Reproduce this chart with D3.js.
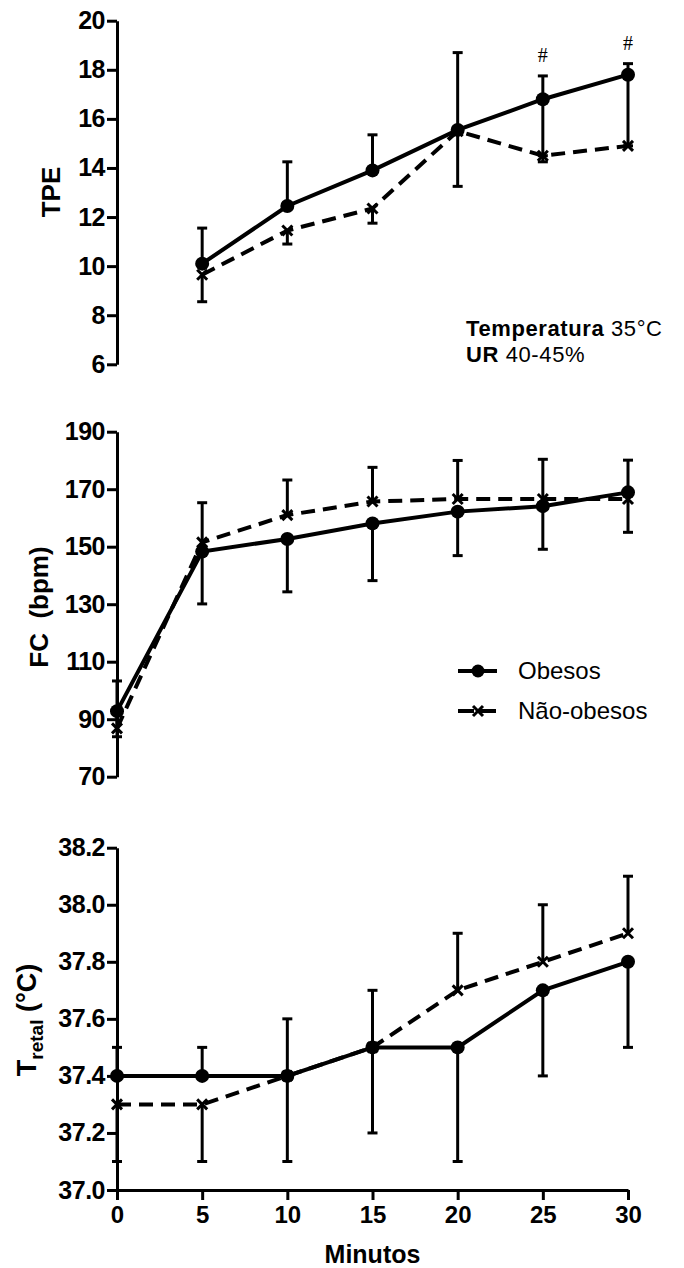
<!DOCTYPE html>
<html>
<head>
<meta charset="utf-8">
<script src="https://cdnjs.cloudflare.com/ajax/libs/d3/7.8.5/d3.min.js"></script>
<style>
  body { margin: 0; background: #fff; }
  text { font-family: "Liberation Sans", Arial, sans-serif; fill: #000; }
  .axis path, .axis line { stroke: #000; stroke-width: 3; }
  .axis text { font-size: 24px; font-weight: bold; font-family: "Liberation Sans", Arial, sans-serif; }
  .yaxis text { font-size: 25px; }
</style>
</head>
<body>
<svg id="chart" width="684" height="1268"></svg>
<script>
// minutos de exercicio
var minutos = [0, 5, 10, 15, 20, 25, 30];
var tpeMinutos = [5, 10, 15, 20, 25, 30];

// TPE
var tpeObesos = [10.1, 12.45, 13.9, 15.55, 16.8, 17.8];
var tpeObesosSup = [11.55, 14.25, 15.35, 18.7, 17.75, 18.25];
var tpeObesosInf = [null, null, null, null, 14.5, 14.9];
var tpeNaoObesos = [9.65, 11.45, 12.35, 15.5, 14.5, 14.9];
var tpeNaoObesosInf = [8.55, 10.9, 11.75, 13.25, 14.25, null];
var tpeSignif = [null, null, null, null, "#", "#"];

// FC (bpm)
var fcObesos = [92.8, 148.3, 152.7, 158.1, 162.2, 164.1, 168.9];
var fcObesosInf = [83.9, 130.1, 134.3, 138.2, 146.9, 149.1, 155];
var fcNaoObesos = [86.8, 151.5, 161, 165.7, 166.6, 166.6, 166.6];
var fcNaoObesosSup = [103.3, 165.3, 173.2, 177.6, 180, 180.4, 180.1];

// T retal (C)
var trObesos = [37.4, 37.4, 37.4, 37.5, 37.5, 37.7, 37.8];
var trObesosSup = [37.5, 37.5, 37.6, 37.7, null, null, null];
var trObesosInf = [null, null, null, null, 37.1, 37.4, 37.5];
var trNaoObesos = [37.3, 37.3, 37.4, 37.5, 37.7, 37.8, 37.9];
var trNaoObesosSup = [null, null, null, null, 37.9, 38.0, 38.1];
var trNaoObesosInf = [37.1, 37.1, 37.1, 37.2, null, null, null];

var tpeTicks = [6, 8, 10, 12, 14, 16, 18, 20];
var fcTicks = [70, 90, 110, 130, 150, 170, 190];
var trTicks = [37.0, 37.2, 37.4, 37.6, 37.8, 38.0, 38.2];

var svg = d3.select("#chart");

var x = d3.scaleLinear().domain([0, 30]).range([117, 628]);

function pontos(xs, ys, sup, inf) {
    return xs.map(function(m, i) {
        return {x: m, y: ys[i], sup: sup ? sup[i] : null, inf: inf ? inf[i] : null};
    });
}

function drawPanel(cfg) {
    var y = d3.scaleLinear().domain(cfg.domain).range(cfg.range);
    var g = svg.append("g");

    g.append("g")
        .attr("class", "axis yaxis")
        .attr("transform", "translate(117,0)")
        .call(d3.axisLeft(y).tickValues(cfg.ticks).tickSize(10).tickSizeOuter(0).tickPadding(2)
            .tickFormat(cfg.format || d3.format("d")))
        .selectAll("text").attr("letter-spacing", "-0.5");

    // error bars
    cfg.series.forEach(function(s) {
        s.data.forEach(function(d) {
            [d.sup, d.inf].forEach(function(v) {
                if (v == null) return;
                g.append("line")
                    .attr("x1", x(d.x)).attr("x2", x(d.x))
                    .attr("y1", y(d.y)).attr("y2", y(v))
                    .attr("stroke", "#000").attr("stroke-width", 3);
                g.append("line")
                    .attr("x1", x(d.x) - 5).attr("x2", x(d.x) + 5)
                    .attr("y1", y(v)).attr("y2", y(v))
                    .attr("stroke", "#000").attr("stroke-width", 3);
            });
        });
    });

    var line = d3.line()
        .x(function(d) { return x(d.x); })
        .y(function(d) { return y(d.y); });

    cfg.series.forEach(function(s) {
        g.append("path")
            .datum(s.data)
            .attr("d", line)
            .attr("fill", "none")
            .attr("stroke", "#000")
            .attr("stroke-width", 4)
            .attr("stroke-dasharray", s.dashed ? "14,8" : null);

        if (s.dashed) {
            g.selectAll(null)
                .data(s.data)
                .enter().append("path")
                .attr("d", "M-5,-5L5,5M-5,5L5,-5")
                .attr("transform", function(d) { return "translate(" + x(d.x) + "," + y(d.y) + ")"; })
                .attr("stroke", "#000")
                .attr("stroke-width", 3);
        } else {
            g.selectAll(null)
                .data(s.data)
                .enter().append("circle")
                .attr("cx", function(d) { return x(d.x); })
                .attr("cy", function(d) { return y(d.y); })
                .attr("r", 7)
                .attr("fill", "#000");
        }
    });

    return {g: g, y: y};
}

// painel TPE
var nao1 = {dashed: true, data: pontos(tpeMinutos, tpeNaoObesos, null, tpeNaoObesosInf)};
var ob1 = {dashed: false, data: pontos(tpeMinutos, tpeObesos, tpeObesosSup, tpeObesosInf)};
var p1 = drawPanel({domain: [6, 20], range: [364.3, 20.7], ticks: tpeTicks, series: [nao1, ob1]});

p1.g.selectAll(".signif")
    .data(ob1.data.filter(function(d, i) { return tpeSignif[i]; }))
    .enter().append("text")
    .attr("x", function(d) { return x(d.x); })
    .attr("y", function(d) { return p1.y(d.sup) - 14; })
    .attr("text-anchor", "middle")
    .style("font-family", "'Liberation Serif', serif")
    .style("font-size", "20px")
    .text("#");

p1.g.append("text")
    .attr("transform", "translate(60,192) rotate(-90)")
    .attr("text-anchor", "middle")
    .style("font-size", "26px")
    .style("font-weight", "bold")
    .text("TPE");

var info = p1.g.append("g").style("font-size", "22px").attr("letter-spacing", "0.6");
var t1 = info.append("text").attr("x", 466).attr("y", 336);
t1.append("tspan").style("font-weight", "bold").text("Temperatura");
t1.append("tspan").text(" 35°C");
var t2 = info.append("text").attr("x", 466).attr("y", 362);
t2.append("tspan").style("font-weight", "bold").text("UR");
t2.append("tspan").text(" 40-45%");

// painel FC
var nao2 = {dashed: true, data: pontos(minutos, fcNaoObesos, fcNaoObesosSup, null)};
var ob2 = {dashed: false, data: pontos(minutos, fcObesos, null, fcObesosInf)};
var p2 = drawPanel({domain: [70, 190], range: [776.7, 431.7], ticks: fcTicks, series: [nao2, ob2]});

p2.g.append("text")
    .attr("transform", "translate(48,607) rotate(-90)")
    .attr("text-anchor", "middle")
    .style("font-size", "26px")
    .style("font-weight", "bold")
    .attr("xml:space", "preserve")
    .text("FC  (bpm)");

// legenda
var legenda = [
    {nome: "Obesos", dashed: false, y: 671},
    {nome: "Não-obesos", dashed: true, y: 711}
];
var leg = p2.g.selectAll(".leg")
    .data(legenda)
    .enter().append("g")
    .attr("transform", function(d) { return "translate(0," + d.y + ")"; });
leg.append("line")
    .attr("x1", 458).attr("x2", 497)
    .attr("stroke", "#000").attr("stroke-width", 4)
    .attr("stroke-dasharray", function(d) { return d.dashed ? "16,6" : null; });
leg.filter(function(d) { return !d.dashed; }).append("circle")
    .attr("cx", 478).attr("r", 6.5).attr("fill", "#000");
leg.filter(function(d) { return d.dashed; }).append("path")
    .attr("d", "M473,-5L483,5M473,5L483,-5")
    .attr("stroke", "#000").attr("stroke-width", 3);
leg.append("text")
    .attr("x", 518).attr("y", 8)
    .style("font-size", "24px")
    .text(function(d) { return d.nome; });

// painel T retal
var nao3 = {dashed: true, data: pontos(minutos, trNaoObesos, trNaoObesosSup, trNaoObesosInf)};
var ob3 = {dashed: false, data: pontos(minutos, trObesos, trObesosSup, trObesosInf)};
var p3 = drawPanel({domain: [37, 38.2], range: [1190, 847.7], ticks: trTicks, format: d3.format(".1f"), series: [nao3, ob3]});

p3.g.append("g")
    .attr("class", "axis")
    .attr("transform", "translate(0,1190)")
    .call(d3.axisBottom(x).tickValues(minutos).tickSize(10).tickSizeOuter(0).tickPadding(6));

p3.g.append("text")
    .attr("x", x(15)).attr("y", 1263)
    .attr("text-anchor", "middle")
    .style("font-size", "25px")
    .style("font-weight", "bold")
    .text("Minutos");

var tl = p3.g.append("text")
    .attr("transform", "translate(36,1020) rotate(-90)")
    .attr("text-anchor", "middle")
    .style("font-size", "27px")
    .style("font-weight", "bold");
tl.append("tspan").text("T");
tl.append("tspan").attr("dy", 7).style("font-size", "19px").text("retal");
tl.append("tspan").attr("dy", -7).text(" (°C)");
</script>
</body>
</html>
